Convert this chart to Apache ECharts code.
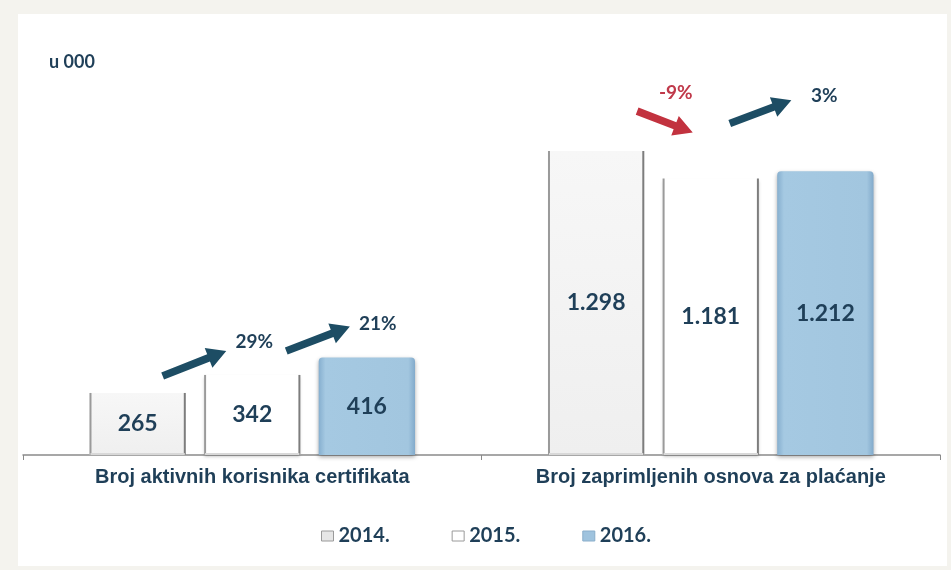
<!DOCTYPE html>
<html>
<head>
<meta charset="utf-8">
<script src="https://cdn.jsdelivr.net/npm/echarts@6/dist/echarts.min.js"></script>
<style>
html,body{margin:0;padding:0;background:#f4f3ee;}
#frame{position:absolute;left:18px;top:14px;width:929px;height:552px;background:#ffffff;}
#chart{position:absolute;left:0;top:0;width:951px;height:570px;}
</style>
</head>
<body>
<div id="frame"></div>
<div id="chart"></div>
<script>
// ---- data ----
const categories = ['Broj aktivnih korisnika certifikata', 'Broj zaprimljenih osnova za plaćanje'];
const years = ['2014.', '2015.', '2016.'];
const values2014 = [265, 1298];
const values2015 = [342, 1181];
const values2016 = [416, 1212];
const changes = [['29%', '21%'], ['-9%', '3%']];
const unitLabel = 'u 000';

// ---- layout / style (pixel offsets of arrows relative to bar centres/tops) ----
const arrowLayout = [
  [[25, -17, -26, -24, 28, -9], [34, -24, -17, -31, 28, -3]],
  [[41, -40, -18, -46, -17, -40], [19, -55, -34, -71, 33, -4]]
];
const navy = '#1f3f58';
const arrowBlue = '#1d4d64';
const arrowRed = '#c2323f';
const BAR_CAT_GAP = 0.29, BAR_GAP = 0.19;

const allValues = [values2014, values2015, values2016];
function fmt(v){ return String(v).replace(/\B(?=(\d{3})+(?!\d))/g, '.'); }

function barGeom(api, cat, k){
  const band = api.size([1, 0])[0];
  const barW = band * (1 - BAR_CAT_GAP) / (3 + 2 * BAR_GAP);
  const step = barW * (1 + BAR_GAP);
  const c = api.coord([cat, 0]);
  const top = api.coord([cat, allValues[k][cat]])[1];
  return {cx: c[0] + (k - 1) * step, base: c[1], top: top, w: barW};
}

function sidesRender(k){
  return function(params, api){
    const cat = api.value(0);
    const g = barGeom(api, cat, k);
    const st = {stroke: '#7d7d7d', lineWidth: 2};
    return {type: 'group', children: [
      {type: 'line', shape: {x1: g.cx - g.w/2 + 1, y1: g.base, x2: g.cx - g.w/2 + 1, y2: g.top}, style: Object.assign({}, st, {stroke: '#9a9a9a'})},
      {type: 'line', shape: {x1: g.cx + g.w/2 - 1, y1: g.base, x2: g.cx + g.w/2 - 1, y2: g.top}, style: st},
      {type: 'line', shape: {x1: g.cx - g.w/2 + 1, y1: g.base - 1, x2: g.cx + g.w/2 - 1, y2: g.base - 1}, style: {stroke: '#d8d8d8', lineWidth: 2}}
    ]};
  };
}

function arrowPoly(tx, ty, hx, hy){
  const dx = hx - tx, dy = hy - ty, L = Math.sqrt(dx*dx + dy*dy);
  const ux = dx / L, uy = dy / L, nx = -uy, ny = ux;
  const hl = 19, hw = 10.5, sw = 3.8;
  const bx = hx - ux * hl, by = hy - uy * hl;
  return [
    [tx + nx*sw, ty + ny*sw], [bx + nx*sw, by + ny*sw], [bx + nx*hw, by + ny*hw],
    [hx, hy],
    [bx - nx*hw, by - ny*hw], [bx - nx*sw, by - ny*sw], [tx - nx*sw, ty - ny*sw]
  ];
}

function arrowRender(params, api){
  const cat = api.value(0), i = api.value(1);
  const a = barGeom(api, cat, i), b = barGeom(api, cat, i + 1);
  const L = arrowLayout[cat][i];
  const tx = a.cx + L[0], ty = a.top + L[1], hx = b.cx + L[2], hy = b.top + L[3];
  const label = changes[cat][i];
  const neg = label.charAt(0) === '-';
  const col = neg ? arrowRed : arrowBlue;
  return {type: 'group', children: [
    {type: 'polygon', shape: {points: arrowPoly(tx, ty, hx, hy)}, style: {fill: col}},
    {type: 'text', style: {text: label, x: hx + L[4], y: hy + L[5], align: 'center', verticalAlign: 'middle',
      fill: neg ? '#c0394a' : navy, font: 'bold 19px Lato, "Open Sans", sans-serif'}}
  ]};
}

const arrowData = [];
changes.forEach((row, c) => row.forEach((_, i) => arrowData.push([c, i])));

const labelCfg = {show: true, position: 'inside', formatter: p => fmt(p.value), color: navy,
  fontFamily: 'Lato, "Open Sans", sans-serif', fontWeight: 'bold', fontSize: 23};

const chart = echarts.init(document.getElementById('chart'), null, {renderer: 'canvas'});
chart.setOption({
  backgroundColor: 'transparent',
  animation: false,
  title: {text: unitLabel, left: 44, top: 48, textStyle: {color: navy, fontSize: 18, fontWeight: 'bold', fontFamily: 'Lato, "Open Sans", sans-serif'}},
  legend: {
    data: [
      {name: years[0], itemStyle: {color: '#e6e6e6', borderColor: '#9a9a9a', borderWidth: 1}},
      {name: years[1], itemStyle: {color: '#ffffff', borderColor: '#9a9a9a', borderWidth: 1}},
      {name: years[2], itemStyle: {color: '#9fc3de', borderColor: '#8aaecb', borderWidth: 1}}
    ],
    icon: 'rect',
    left: 316, top: 521, itemWidth: 12, itemHeight: 10, itemGap: 62,
    textStyle: {color: navy, fontSize: 20, fontWeight: 'bold', fontFamily: 'Lato, "Open Sans", sans-serif'}
  },
  grid: {left: 23, right: 11, top: 57, bottom: 115},
  xAxis: {
    type: 'category', data: categories,
    axisLine: {lineStyle: {color: '#8a8a8a', width: 1.5}},
    axisTick: {show: true, length: 5, lineStyle: {color: '#8a8a8a'}},
    axisLabel: {color: navy, fontSize: 20, fontWeight: 'bold', fontFamily: '"Liberation Sans", Arial, sans-serif', margin: 12}
  },
  yAxis: {type: 'value', min: 0, max: 1700, show: false, splitLine: {show: false}},
  series: [
    {name: years[0], type: 'bar', data: values2014, barGap: '19%', barCategoryGap: '29%',
      itemStyle: {color: {type: 'linear', x: 0, y: 0, x2: 0, y2: 1, colorStops: [{offset: 0, color: '#f7f7f7'}, {offset: 1, color: '#efefef'}]}},
      label: labelCfg},
    {name: years[1], type: 'bar', data: values2015,
      itemStyle: {color: '#ffffff', shadowColor: 'rgba(0,0,0,0.25)', shadowBlur: 3, shadowOffsetY: 2},
      label: labelCfg},
    {name: years[2], type: 'bar', data: values2016,
      itemStyle: {
        color: {type: 'linear', x: 0, y: 0, x2: 1, y2: 0, colorStops: [
          {offset: 0, color: '#86afcf'}, {offset: 0.07, color: '#a5c9e2'}, {offset: 0.93, color: '#a2c6df'}, {offset: 1, color: '#82aacb'}]},
        borderRadius: [4, 4, 0, 0],
        shadowColor: 'rgba(0,0,0,0.35)', shadowBlur: 4, shadowOffsetY: 2
      },
      label: labelCfg},
    {name: 'sides2014', type: 'custom', renderItem: sidesRender(0), data: values2014.map((v, i) => [i, v]), z: 3, silent: true},
    {name: 'sides2015', type: 'custom', renderItem: sidesRender(1), data: values2015.map((v, i) => [i, v]), z: 3, silent: true},
    {name: 'arrows', type: 'custom', renderItem: arrowRender, data: arrowData, z: 5, silent: true}
  ]
});
</script>
</body>
</html>
